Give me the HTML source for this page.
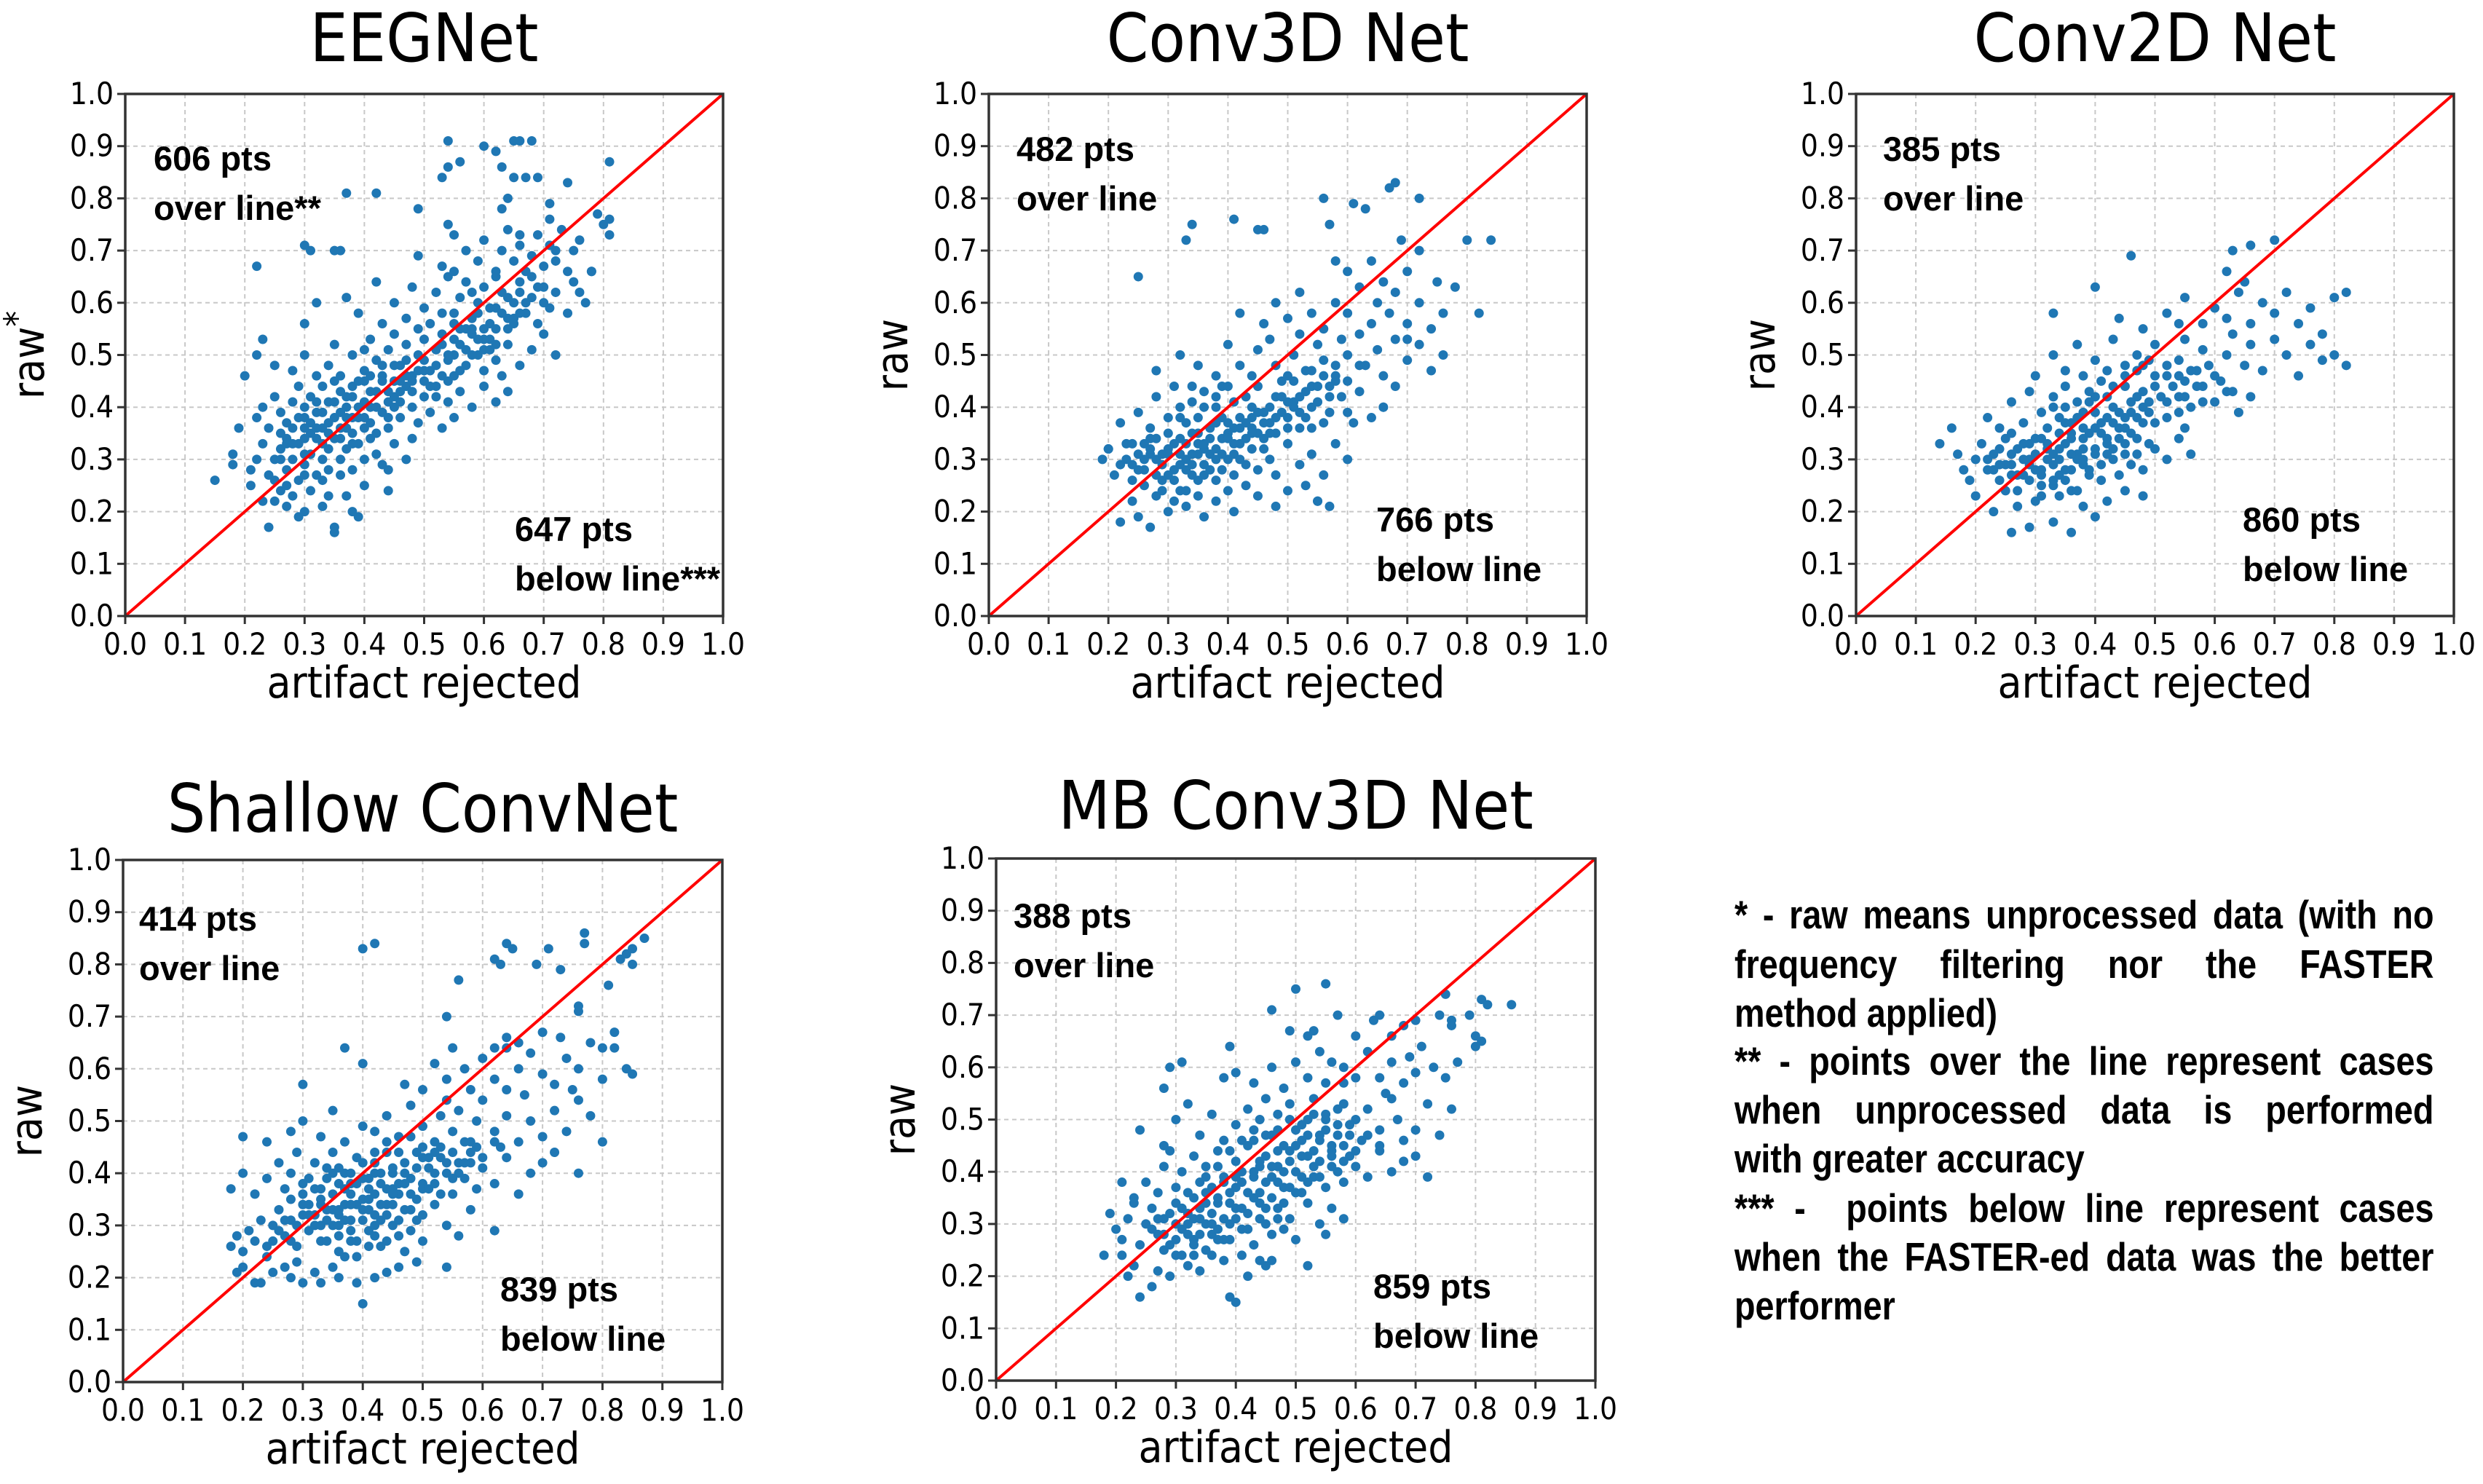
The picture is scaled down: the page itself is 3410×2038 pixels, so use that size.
<!DOCTYPE html>
<html><head><meta charset="utf-8">
<style>
html,body{margin:0;padding:0;background:#fff;}
svg{display:block;}
.note{position:absolute;left:2382px;width:1130px;font-family:'Liberation Sans',sans-serif;font-weight:bold;font-size:55px;line-height:60px;color:#000;white-space:nowrap;transform:scaleX(0.85);transform-origin:0 0;}
.j{text-align:justify;text-align-last:justify;}
</style></head>
<body>
<div style="position:relative;width:3410px;height:2038px;">
<svg id="fig" xmlns="http://www.w3.org/2000/svg" width="3410" height="2038" viewBox="0 0 3410 2038" style="position:absolute;left:0;top:0;">
<rect width="3410" height="2038" fill="#fff"/>
</svg>
<div>
<div class="note j" style="top:1226px">* - raw means unprocessed data (with no</div>
<div class="note j" style="top:1294px">frequency filtering nor the FASTER</div>
<div class="note" style="top:1361px">method applied)</div>
<div class="note j" style="top:1427px">** - points over the line represent cases</div>
<div class="note j" style="top:1494px">when unprocessed data is performed</div>
<div class="note" style="top:1561px">with greater accuracy</div>
<div class="note j" style="top:1629px">*** -&nbsp; points below line represent cases</div>
<div class="note j" style="top:1696px">when the FASTER-ed data was the better</div>
<div class="note" style="top:1763px">performer</div>
</div>
</div>
<script>
// ---- data (values in percent, x = artifact rejected, y = raw) ----
const tickValues=[0,0.1,0.2,0.3,0.4,0.5,0.6,0.7,0.8,0.9,1.0];
const tickLabels=["0.0","0.1","0.2","0.3","0.4","0.5","0.6","0.7","0.8","0.9","1.0"];
const panelTitles=["EEGNet","Conv3D Net","Conv2D Net","Shallow ConvNet","MB Conv3D Net"];
const overCounts=[606,482,385,414,388];
const belowCounts=[647,766,860,839,859];

const eegPts=[[24,17],[35,16],[35,17],[39,19],[29,19],[30,20],[27,21],[23,22],[25,22],[33,21],[34,23],[38,20],[44,24],[21,25],[15,26],[26,24],[28,23],[31,24],[37,23],[40,25],
[18,29],[18,31],[21,28],[22,30],[23,33],[24,27],[25,30],[26,32],[27,28],[27,34],[28,30],[29,26],[29,33],[30,29],[31,31],[32,27],[32,34],[33,30],[34,32],[34,28],[35,34],[36,30],[37,32],[38,28],[39,33],[40,30],[41,34],[42,31],[43,29],[45,33],[47,30],[48,34],[26,35],[31,35],[36,27],[44,28],[25,26],[30,34],[33,26],[38,35],
[19,36],[22,38],[23,40],[24,36],[25,42],[26,39],[27,37],[28,41],[29,44],[30,38],[31,42],[32,39],[33,36],[33,44],[34,41],[35,38],[36,43],[37,36],[37,40],[38,44],[39,38],[40,41],[41,37],[42,43],[43,39],[44,36],[45,42],[46,38],[47,44],[48,40],[49,37],[50,42],[51,39],[52,44],[53,36],[54,41],[55,38],[56,43],[58,40],[60,44],[62,41],[64,43],[35,45],[40,45],[45,45],[30,36],[41,40],[36,39],[44,41],[38,42],
[20,46],[22,50],[23,53],[25,48],[28,47],[30,50],[32,46],[34,48],[35,52],[36,46],[38,50],[40,47],[41,53],[42,49],[43,46],[44,51],[45,54],[46,48],[47,52],[48,46],[49,50],[50,53],[51,47],[52,51],[53,54],[54,49],[55,46],[56,52],[57,48],[58,54],[59,50],[60,47],[61,53],[62,49],[63,46],[64,52],[66,48],[68,51],[70,54],[72,50],[46,45],[50,49],[55,50],[60,51],[40,51],
[30,56],[32,60],[37,61],[39,58],[42,64],[43,56],[45,60],[47,57],[48,63],[50,59],[51,56],[52,62],[53,58],[54,65],[55,56],[56,61],[57,64],[58,57],[59,60],[60,63],[61,56],[62,59],[63,62],[64,57],[65,60],[66,64],[67,58],[68,61],[69,56],[70,63],[71,59],[72,62],[74,58],[75,64],[77,60],[62,65],[58,62],[65,56],
[30,71],[31,70],[35,70],[36,70],[22,67],[49,69],[53,67],[55,66],[57,70],[59,68],[60,72],[62,66],[63,70],[64,74],[65,68],[66,71],[67,66],[68,69],[69,73],[70,67],[71,71],[72,68],[73,74],[74,66],[75,70],[76,72],[78,66],[80,75],[66,73],[72,70],
[54,91],[65,91],[66,91],[68,91],[60,90],[62,89],[63,86],[56,87],[54,86],[53,84],[65,84],[67,84],[69,84],[81,87],[74,83],[42,81],[37,81],[49,78],[81,73],[81,76],[79,77],[76,62],[78,66],[64,80],[63,78],[71,79],[71,76],[55,73],[54,75],
[27,33],[28,36],[29,38],[30,40],[31,37],[32,41],[33,39],[34,35],[35,41],[36,36],[37,42],[38,38],[39,40],[40,36],[41,43],[42,40],[43,45],[44,43],[45,40],[46,43],[47,46],[48,43],[49,47],[50,45],[51,44],[52,48],[53,46],[54,50],[55,53],[56,55],[57,51],[58,55],[59,58],[60,55],[61,59],[62,55],[63,58],[64,61],[65,57],[66,62],[67,60],[68,65],[69,63],[70,60],[26,30],[28,33],[30,31],[32,36],[34,37],[36,34],[38,33],[40,38],[42,35],[44,38],[46,41],[48,45],[50,47],[52,42],[54,45],[56,47],[58,50],[60,53],[62,52],[64,55],[66,58],[30,27],[27,25],[33,33],[37,38],[39,45],[41,46],[43,48],[45,48],[47,49],[49,55],[53,52],[55,58],[57,55],[59,53],[61,51]];

const c3dPts=[[22,18],[25,19],[27,17],[30,20],[33,21],[36,19],[38,22],[41,20],[45,23],[48,21],[55,22],[57,21],[24,22],[28,23],[32,24],[35,23],[40,24],[43,25],[50,24],[53,25],
[19,30],[20,32],[21,27],[22,29],[23,33],[24,26],[25,31],[26,28],[27,34],[28,30],[29,26],[30,32],[31,28],[32,34],[33,30],[34,27],[35,33],[36,29],[37,31],[38,26],[39,34],[40,30],[41,27],[42,33],[43,29],[44,32],[45,28],[46,34],[47,30],[48,27],[50,33],[52,29],[54,31],[56,27],[58,33],[60,30],[30,35],[35,35],[26,33],[33,28],[38,32],[29,31],[31,33],[36,32],[41,31],[24,29],[27,31],[34,31],
[22,37],[25,39],[27,36],[28,42],[30,38],[31,44],[33,37],[34,41],[35,38],[36,43],[37,36],[38,40],[39,44],[40,37],[41,41],[42,38],[43,42],[44,36],[45,44],[46,39],[47,37],[48,42],[49,45],[50,38],[51,41],[52,36],[53,43],[54,40],[56,37],[57,42],[58,45],[60,39],[62,43],[64,38],[66,40],[68,44],[39,38],[44,40],[32,40],
[28,47],[32,50],[35,48],[38,46],[40,52],[42,48],[44,46],[45,51],[47,53],[48,48],[50,46],[51,50],[52,54],[54,47],[55,52],[56,49],[58,46],[59,53],[60,50],[62,54],[63,48],[65,51],[66,46],[68,53],[70,49],[72,52],[74,47],[76,50],[70,53],
[25,65],[42,58],[46,56],[48,60],[50,57],[52,62],[54,58],[56,55],[58,60],[60,58],[62,63],[64,56],[65,60],[67,58],[68,62],[70,56],[72,60],[74,55],[76,58],[82,58],[78,63],[66,64],
[60,66],[64,68],[70,66],[72,70],[58,68],[75,64],[69,72],[68,83],[67,82],[56,80],[63,78],[72,80],[34,75],[45,74],[46,74],[33,72],[80,72],[84,72],[66,40],[55,22],[20,32],[61,79],[57,75],[41,76],
[25,28],[26,30],[27,32],[28,27],[29,29],[30,31],[31,26],[32,29],[33,33],[34,29],[35,31],[36,27],[37,34],[38,30],[39,28],[40,35],[41,33],[42,36],[43,34],[44,38],[45,35],[46,37],[47,40],[48,35],[49,39],[50,36],[51,40],[52,42],[53,38],[54,44],[55,41],[56,46],[57,44],[58,48],[60,45],[62,48],[23,30],[24,33],[26,25],[28,34],[30,27],[32,31],[34,35],[36,33],[38,37],[40,34],[42,30],[44,35],[46,32],[48,38],[50,41],[52,39],[54,36],[29,24],[31,22],[33,24],[35,26],[37,28],[39,31],[41,36],[43,37],[45,39],[47,35],[49,42],[51,45],[53,47],[55,44],[57,39],[59,42],[61,37],[32,38],[34,44],[36,40],[38,42],[40,44]];

const c2dPts=[[26,16],[29,17],[33,18],[36,16],[40,19],[23,20],[27,21],[30,22],[34,23],[38,21],[42,22],[45,24],[48,23],[25,24],[31,25],[36,24],[20,23],
[14,33],[17,31],[18,28],[19,26],[20,30],[21,33],[22,28],[23,31],[24,26],[25,34],[26,29],[27,32],[28,27],[29,30],[30,34],[31,28],[32,32],[33,26],[34,30],[35,33],[36,28],[37,31],[38,34],[39,27],[40,32],[41,29],[42,34],[43,30],[44,27],[45,33],[46,29],[47,31],[48,28],[50,32],[52,30],[54,34],[56,31],[26,35],[31,34],[34,35],[38,29],[42,31],[29,33],[33,31],[36,35],
[16,36],[22,38],[24,36],[26,41],[28,37],[29,43],[31,39],[32,36],[33,42],[34,38],[35,44],[36,37],[37,41],[38,36],[39,43],[40,39],[41,37],[42,42],[43,40],[44,36],[45,44],[46,39],[47,42],[48,37],[49,41],[50,44],[52,38],[54,42],[55,36],[56,40],[58,44],[60,41],[62,43],[64,39],[66,42],[35,40],[40,42],[45,38],[38,39],
[30,46],[33,50],[35,47],[37,52],[38,46],[40,49],[42,47],[43,53],[45,46],[47,50],[48,48],[50,52],[52,46],[54,49],[55,53],[57,47],[58,51],[60,46],[62,50],[63,54],[65,48],[66,52],[68,47],[70,53],[72,50],[74,46],[76,52],[78,49],[80,50],[82,48],[55,45],
[33,58],[44,57],[48,55],[52,58],[55,61],[58,56],[60,59],[62,57],[64,62],[66,56],[68,60],[70,58],[72,62],[74,56],[76,59],[78,54],[82,62],[80,61],[54,56],
[46,69],[66,71],[70,72],[62,66],[65,64],[40,63],[63,70],
[22,30],[23,28],[24,32],[25,29],[26,31],[27,27],[28,33],[29,29],[30,31],[31,27],[32,33],[33,29],[34,32],[35,28],[36,34],[37,30],[38,32],[39,35],[40,31],[41,35],[42,33],[43,37],[44,34],[45,36],[46,41],[47,38],[48,43],[49,39],[50,46],[51,42],[52,48],[53,44],[54,46],[55,42],[56,47],[57,44],[58,41],[59,48],[61,45],[63,43],[24,29],[26,27],[28,30],[30,28],[32,30],[34,27],[36,31],[38,30],[40,36],[42,38],[44,39],[46,35],[48,40],[50,37],[52,41],[54,39],[27,24],[29,26],[31,23],[33,25],[35,26],[37,24],[39,28],[41,26],[43,32],[45,31],[47,34],[49,33],[33,40],[35,37],[37,38],[39,41],[41,45],[43,44],[45,48],[47,47],[49,49]];

const shlPts=[[40,15],[33,19],[36,20],[39,19],[22,19],[23,19],[30,19],[25,21],[27,22],[29,23],[32,21],[35,22],[37,24],[42,20],[44,21],[46,22],[49,23],[54,22],[19,21],[20,22],[24,24],[28,20],
[18,26],[19,28],[20,25],[21,29],[22,27],[23,31],[24,26],[25,30],[26,33],[27,28],[28,31],[29,26],[30,34],[31,29],[32,32],[33,27],[34,33],[35,30],[36,28],[37,34],[38,31],[39,27],[40,33],[41,29],[42,32],[43,26],[44,34],[45,30],[46,28],[47,33],[48,29],[49,31],[50,27],[52,34],[54,30],[56,28],[58,33],[62,29],[33,34],[36,32],[39,34],[41,33],[43,31],[45,34],[38,29],[42,28],[35,33],
[18,37],[20,40],[22,36],[24,39],[26,42],[27,37],[28,40],[29,44],[30,36],[31,39],[32,42],[33,37],[34,41],[35,44],[36,38],[37,40],[38,36],[39,43],[40,39],[41,37],[42,42],[43,38],[44,44],[45,40],[46,36],[47,42],[48,39],[49,44],[50,37],[51,41],[52,38],[53,43],[54,40],[55,36],[56,42],[57,39],[58,44],[59,37],[60,41],[62,38],[64,43],[66,36],[68,40],[70,42],[72,44],[76,40],[35,40],[38,38],[42,40],[45,37],
[24,46],[20,47],[28,48],[30,50],[33,47],[35,52],[37,46],[40,49],[42,48],[44,51],[46,47],[48,53],[50,49],[52,46],[53,51],[54,54],[55,48],[56,52],[58,46],[59,50],[60,54],[62,48],[64,51],[66,46],[68,50],[70,47],[72,52],[74,48],[76,54],[78,51],[80,46],[63,45],[50,45],
[30,57],[37,64],[40,61],[47,57],[50,56],[52,61],[54,58],[55,64],[57,60],[58,56],[60,62],[62,58],[64,64],[66,60],[67,55],[68,63],[70,59],[72,57],[74,62],[76,60],[78,65],[80,58],[82,64],[84,60],[85,59],[75,56],[64,56],
[54,70],[56,77],[62,64],[64,66],[70,67],[73,66],[76,71],[76,72],[81,76],[83,81],[84,82],[85,83],[85,80],[40,83],[42,84],[64,84],[65,83],[62,81],[63,80],[69,80],[71,83],[73,79],[77,86],[77,84],[87,85],[82,67],[80,64],[66,65],
[25,27],[26,29],[27,31],[28,27],[29,30],[30,32],[31,34],[32,30],[33,35],[34,31],[35,36],[36,33],[37,37],[38,34],[39,38],[40,35],[41,39],[42,36],[43,40],[44,37],[45,41],[46,38],[47,40],[48,36],[49,41],[50,38],[51,43],[52,40],[53,45],[54,42],[55,44],[56,40],[57,46],[58,42],[59,45],[60,43],[62,46],[28,35],[30,38],[32,37],[34,39],[36,41],[38,40],[40,42],[42,44],[44,46],[46,44],[48,47],[50,43],[52,44],[34,27],[36,30],[38,27],[40,31],[42,30],[44,32],[46,31],[48,33],[50,32],[33,30],[31,32],[37,31],[41,35],[43,34],[45,36],[47,38],[49,35],[51,37],[53,36],[55,39],[57,42],[36,25],[39,24],[41,26],[44,27],[47,25]];

const mbPts=[[24,16],[26,18],[39,16],[40,15],[42,20],[21,24],[22,20],[23,22],[27,21],[29,20],[32,22],[34,21],[36,24],[38,23],[41,24],[44,23],[46,23],[52,22],[30,24],[33,24],[45,22],
[18,24],[19,32],[20,29],[21,27],[22,31],[23,34],[24,26],[25,30],[26,33],[27,28],[28,31],[29,26],[30,34],[31,29],[32,32],[33,27],[34,33],[35,30],[36,28],[37,34],[38,31],[39,27],[40,33],[41,29],[42,32],[43,26],[44,34],[45,30],[46,28],[47,33],[48,29],[49,31],[50,27],[52,34],[54,30],[55,28],[56,33],[58,31],[31,33],[35,34],[39,34],[33,31],[37,29],
[21,38],[23,35],[25,38],[27,36],[28,41],[29,44],[30,37],[31,40],[32,36],[33,43],[34,38],[35,41],[36,37],[37,44],[38,39],[39,36],[40,42],[41,38],[42,45],[43,40],[44,36],[45,43],[46,39],[47,41],[48,37],[49,44],[50,40],[51,36],[52,43],[53,39],[54,42],[55,37],[56,44],[57,40],[58,38],[59,43],[60,41],[62,39],[64,44],[66,40],[68,42],[70,43],[72,39],[40,39],[44,41],[47,38],
[24,48],[28,45],[30,50],[32,53],[34,47],[36,51],[38,46],[40,49],[42,52],[43,46],[44,50],[45,54],[46,47],[47,51],[48,45],[49,53],[50,48],[51,46],[52,50],[53,54],[54,47],[55,51],[56,45],[57,49],[58,53],[59,47],[60,50],[61,46],[62,52],[64,48],[66,54],[67,50],[68,46],[70,48],[72,53],[74,47],[76,52],[65,55],
[28,56],[29,60],[31,61],[38,58],[40,59],[43,57],[46,60],[48,56],[50,61],[52,58],[54,63],[55,57],[56,61],[58,60],[60,58],[62,63],[64,58],[66,61],[68,57],[70,59],[71,64],[73,60],[75,58],[77,61],[81,65],[69,62],[58,57],
[39,64],[46,71],[49,67],[50,75],[55,76],[52,66],[53,67],[57,70],[63,69],[64,70],[66,66],[68,68],[70,69],[74,70],[75,74],[76,69],[76,68],[79,70],[80,66],[81,73],[82,72],[86,72],[80,64],[60,66],
[26,29],[27,31],[28,28],[29,32],[30,30],[31,33],[32,28],[33,35],[34,31],[35,36],[36,32],[37,35],[38,38],[39,34],[40,37],[41,40],[42,36],[43,39],[44,42],[45,38],[46,41],[47,44],[48,40],[49,42],[50,45],[51,43],[52,47],[53,44],[54,46],[55,48],[56,43],[57,47],[58,45],[59,49],[60,44],[62,47],[64,45],[30,27],[32,30],[34,28],[36,30],[38,27],[40,31],[42,29],[44,31],[46,35],[48,34],[50,36],[52,38],[54,39],[56,41],[58,42],[35,39],[37,41],[39,44],[41,46],[43,48],[45,47],[47,48],[49,50],[51,49],[53,51],[55,50],[57,52],[28,25],[31,24],[33,26],[35,25],[37,27],[39,30],[41,33],[43,35],[45,33],[47,31],[49,37],[51,39],[53,41]];

const allPts=[eegPts,c3dPts,c2dPts,shlPts,mbPts];
const yLabels=["raw","raw","raw","raw","raw"];

// ---- layout ----
const panels=[
 {left:172,top:129,w:821,h:717,titleY:84},
 {left:1358,top:129,w:821,h:717,titleY:84},
 {left:2549,top:129,w:821,h:717,titleY:84},
 {left:169,top:1181,w:823,h:717,titleY:1142},
 {left:1368,top:1179,w:823,h:717,titleY:1138}
];
const annot=[
 {ox:211,oy:217,bx:707,by:726,o2:"over line**",b2:"below line***"},
 {ox:1396,oy:204,bx:1890,by:713,o2:"over line",b2:"below line"},
 {ox:2586,oy:204,bx:3080,by:713,o2:"over line",b2:"below line"},
 {ox:191,oy:1261,bx:687,by:1770,o2:"over line",b2:"below line"},
 {ox:1392,oy:1257,bx:1886,by:1766,o2:"over line",b2:"below line"}
];
const NS="http://www.w3.org/2000/svg";
const svg=document.getElementById('fig');
function mk(tag,attrs,parent){const e=document.createElementNS(NS,tag);for(const k in attrs)e.setAttribute(k,attrs[k]);parent.appendChild(e);return e;}
const TF="'DejaVu Sans Condensed','DejaVu Sans','Liberation Sans',sans-serif";

panels.forEach((p,i)=>{
  const g=mk('g',{},svg);
  
  
  const sx=v=>p.left+v*p.w, sy=v=>p.top+p.h-v*p.h;
  const t=mk('text',{x:p.left+p.w/2,y:p.titleY,'text-anchor':'middle','font-family':TF,'font-size':92,fill:'#000'},g);
  t.textContent=panelTitles[i];
  
  
  tickValues.forEach((v,k)=>{
    const gx=mk('line',{x1:sx(v),x2:sx(v),y1:p.top,y2:p.top+p.h,stroke:'#c8c8c8','stroke-width':2,'stroke-dasharray':'6,5'},g);
    
    
    const gy=mk('line',{x1:p.left,x2:p.left+p.w,y1:sy(v),y2:sy(v),stroke:'#c8c8c8','stroke-width':2,'stroke-dasharray':'6,5'},g);
    
    
    mk('line',{x1:sx(v),x2:sx(v),y1:p.top+p.h,y2:p.top+p.h+11,stroke:'#333','stroke-width':3},g);
    mk('line',{x1:p.left-11,x2:p.left,y1:sy(v),y2:sy(v),stroke:'#333','stroke-width':3},g);
    const xl=mk('text',{x:sx(v),y:p.top+p.h+53,'text-anchor':'middle','font-family':TF,'font-size':42,fill:'#000'},g);
    xl.textContent=tickLabels[k];
    
    
    const yl=mk('text',{x:p.left-16,y:sy(v)+14,'text-anchor':'end','font-family':TF,'font-size':42,fill:'#000'},g);
    yl.textContent=tickLabels[k];
    
    
  });
  allPts[i].forEach(pt=>{
    const c=mk('circle',{cx:sx(pt[0]/100),cy:sy(pt[1]/100),r:6.5,fill:'#1f77b4'},g);
    
    
  });
  const d=mk('line',{x1:sx(0),y1:sy(0),x2:sx(1),y2:sy(1),stroke:'#ff0000','stroke-width':4},g);
  
  
  const fr=mk('rect',{x:p.left,y:p.top,width:p.w,height:p.h,fill:'none',stroke:'#333','stroke-width':3.5},g);
  
  
  const xa=mk('text',{x:p.left+p.w/2,y:p.top+p.h+112,'text-anchor':'middle','font-family':TF,'font-size':60,fill:'#000'},g);
  xa.textContent='artifact rejected';
  
  
  const yx=p.left-112, yy=p.top+p.h/2;
  const ya=mk('text',{x:yx,y:yy,'text-anchor':'middle','font-family':TF,'font-size':60,fill:'#000',transform:'rotate(-90 '+yx+' '+yy+')'},g);
  ya.textContent=yLabels[i];
  if(i===0){const s=mk('tspan',{dy:-20,'font-size':48},ya);s.textContent='*';}
  
  
  const a=annot[i];
  const AF="'Liberation Sans',sans-serif";
  const o1=mk('text',{x:a.ox,y:a.oy+17,'font-family':AF,'font-weight':'bold','font-size':47,fill:'#000'},g);
  o1.textContent=overCounts[i]+' pts';
  
  
  const o2=mk('text',{x:a.ox,y:a.oy+85,'font-family':AF,'font-weight':'bold','font-size':47,fill:'#000'},g);
  o2.textContent=a.o2;
  
  
  const b1=mk('text',{x:a.bx,y:a.by+17,'font-family':AF,'font-weight':'bold','font-size':47,fill:'#000'},g);
  b1.textContent=belowCounts[i]+' pts';
  
  
  const b2=mk('text',{x:a.bx,y:a.by+85,'font-family':AF,'font-weight':'bold','font-size':47,fill:'#000'},g);
  b2.textContent=a.b2;
  
  
});
</script>
</body></html>
